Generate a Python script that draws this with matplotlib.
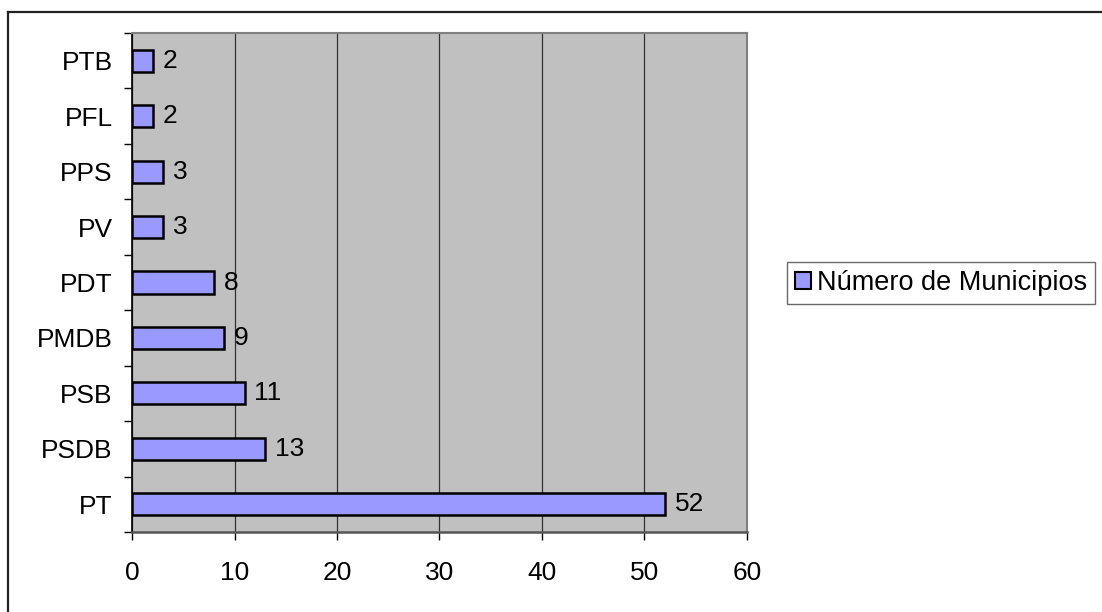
import matplotlib
matplotlib.use("Agg")
import matplotlib.pyplot as plt
from matplotlib.patches import Patch
from matplotlib.lines import Line2D

categories = ["PT", "PSDB", "PSB", "PMDB", "PDT", "PV", "PPS", "PFL", "PTB"]
values = [52, 13, 11, 9, 8, 3, 3, 2, 2]
series_name = "Número de Municipios"
xticks = [0, 10, 20, 30, 40, 50, 60]

plt.rcParams['font.family'] = ['Liberation Sans', 'DejaVu Sans']
FS = 19

W, H = 1102, 612
fig = plt.figure(figsize=(W / 100, H / 100), dpi=100)

# outer chart border (top and left edges visible)
bx, by = 8 / W, 1 - 12 / H
fig.add_artist(Line2D([bx, 1.0], [by, by], transform=fig.transFigure,
                      color='#222222', linewidth=1.6))
fig.add_artist(Line2D([bx, bx], [0.0, by], transform=fig.transFigure,
                      color='#222222', linewidth=1.6))

left, right, top, bottom = 132, 747, 33, 532
ax = fig.add_axes([left / W, 1 - bottom / H, (right - left) / W, (bottom - top) / H])
ax.set_facecolor('#C0C0C0')

y = list(range(len(categories)))
ax.barh(y, values, height=0.4, color='#9999FF', edgecolor='black',
        linewidth=1.8, zorder=3, label=series_name)

for yi, v in zip(y, values):
    ax.text(v + 0.95, yi, str(v), va='center', ha='left', fontsize=FS, color='black', zorder=4)

ax.set_xlim(0, 60)
ax.set_ylim(-0.5, len(categories) - 0.5)
ax.set_xticks(xticks)
ax.set_xticklabels([str(t) for t in xticks], fontsize=FS)
ax.set_yticks(y)
ax.set_yticklabels(categories, fontsize=FS)
ax.set_yticks([i - 0.5 for i in range(len(categories) + 1)], minor=True)
ax.tick_params(axis='y', which='major', length=0, pad=14)
ax.tick_params(axis='y', which='minor', length=6, width=1, color='black')
ax.tick_params(axis='x', which='major', length=6, width=1, color='black', pad=15)

ax.xaxis.grid(True, color='#333333', linewidth=0.9, zorder=1)
ax.set_axisbelow(True)
for s in ['top', 'right']:
    ax.spines[s].set_color('#808080')
    ax.spines[s].set_linewidth(1.5)
ax.spines['bottom'].set_color('#555555')
ax.spines['bottom'].set_linewidth(1.8)
ax.spines['left'].set_color('black')
ax.spines['left'].set_linewidth(1.2)

leg = fig.legend(handles=[Patch(facecolor='#9999FF', edgecolor='black', linewidth=1.5,
                                label=series_name)],
                 loc='center left', bbox_to_anchor=(787 / W, 1 - 283 / H),
                 fontsize=19.5, frameon=True, fancybox=False, handlelength=0.6,
                 handleheight=0.6, handletextpad=0.2, borderpad=0.3,
                 borderaxespad=0)
leg.get_frame().set_edgecolor('#444444')
leg.get_frame().set_linewidth(1.0)

fig.savefig("out.png", dpi=100)
